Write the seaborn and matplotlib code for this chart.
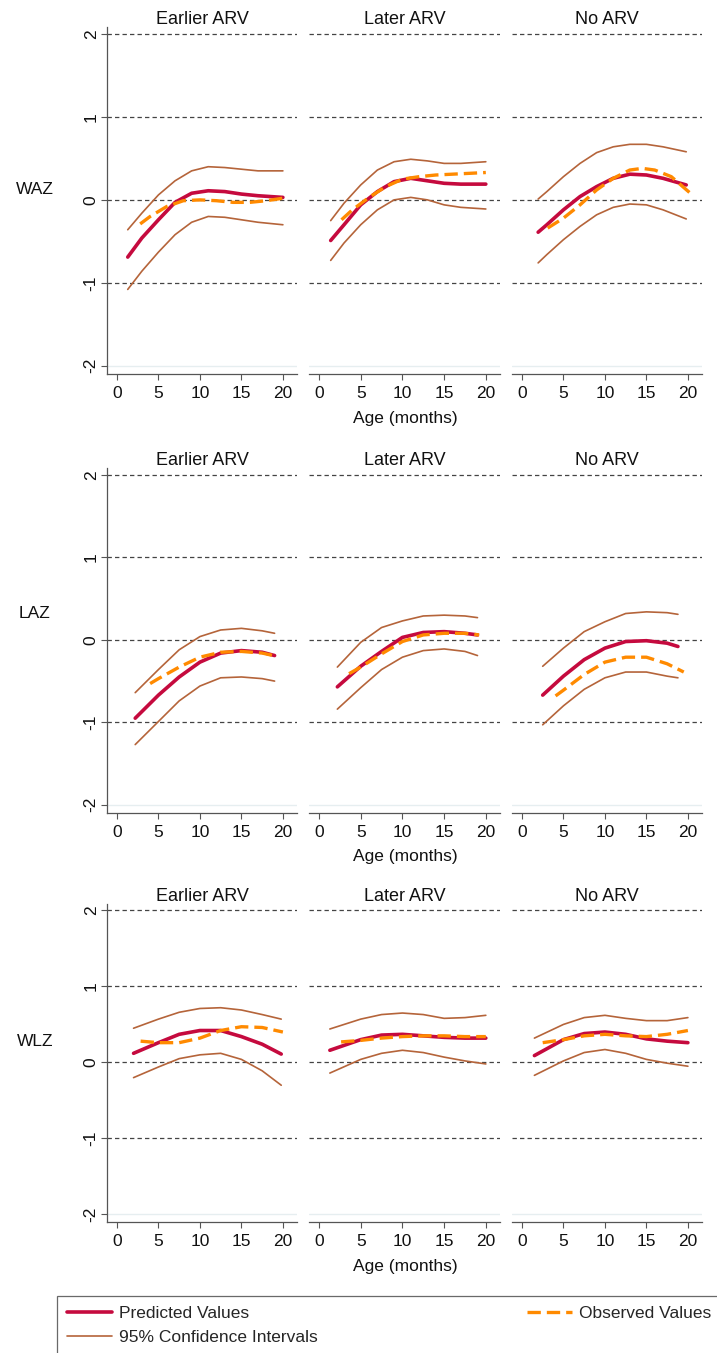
import matplotlib
matplotlib.use("Agg")
import matplotlib.pyplot as plt
import seaborn as sns
from matplotlib.lines import Line2D

# panels: rows = indicator, columns = ARV group
groups = ["Earlier ARV", "Later ARV", "No ARV"]
indicators = ["WAZ", "LAZ", "WLZ"]

# ---- WAZ ----
waz_early = dict(
    x=[1.3, 3, 5, 7, 9, 11, 13, 15, 17, 20],
    pred=[-0.69, -0.46, -0.24, -0.03, 0.08, 0.11, 0.10, 0.07, 0.05, 0.03],
    hi=[-0.36, -0.16, 0.06, 0.23, 0.35, 0.40, 0.39, 0.37, 0.35, 0.35],
    lo=[-1.08, -0.86, -0.63, -0.42, -0.27, -0.20, -0.21, -0.24, -0.27, -0.30],
    obs_x=[2.8, 4, 6, 8, 10, 12, 14, 16, 18, 20],
    obs=[-0.29, -0.20, -0.08, -0.01, 0.00, -0.01, -0.03, -0.03, -0.01, 0.02],
)
waz_later = dict(
    x=[1.4, 3, 5, 7, 9, 11, 13, 15, 17, 20],
    pred=[-0.49, -0.30, -0.06, 0.10, 0.22, 0.26, 0.23, 0.20, 0.19, 0.19],
    hi=[-0.25, -0.04, 0.18, 0.36, 0.46, 0.49, 0.47, 0.44, 0.44, 0.46],
    lo=[-0.73, -0.52, -0.30, -0.12, 0.00, 0.03, 0.00, -0.06, -0.09, -0.11],
    obs_x=[2.7, 4, 6, 8, 10, 12, 14, 16, 18, 20],
    obs=[-0.24, -0.12, 0.03, 0.16, 0.25, 0.28, 0.30, 0.31, 0.32, 0.33],
)
waz_none = dict(
    x=[1.95, 3, 5, 7, 9, 11, 13, 15, 17, 19.8],
    pred=[-0.39, -0.30, -0.12, 0.04, 0.16, 0.26, 0.31, 0.30, 0.26, 0.18],
    hi=[0.01, 0.10, 0.28, 0.44, 0.57, 0.64, 0.67, 0.67, 0.64, 0.58],
    lo=[-0.76, -0.66, -0.48, -0.32, -0.18, -0.09, -0.05, -0.06, -0.12, -0.23],
    obs_x=[3.1, 5, 7, 9, 11, 13, 14.5, 16, 18, 20.3],
    obs=[-0.34, -0.22, -0.06, 0.12, 0.26, 0.36, 0.38, 0.36, 0.28, 0.08],
)

# ---- LAZ ----
laz_early = dict(
    x=[2.2, 5, 7.5, 10, 12.5, 15, 17.5, 19],
    pred=[-0.95, -0.67, -0.45, -0.27, -0.16, -0.13, -0.15, -0.19],
    hi=[-0.64, -0.36, -0.12, 0.04, 0.12, 0.14, 0.11, 0.08],
    lo=[-1.27, -0.99, -0.74, -0.56, -0.46, -0.45, -0.47, -0.50],
    obs_x=[4, 5, 7.5, 10, 12.5, 15, 17.5, 19.3],
    obs=[-0.53, -0.47, -0.33, -0.21, -0.15, -0.14, -0.16, -0.20],
)
laz_later = dict(
    x=[2.2, 5, 7.5, 10, 12.5, 15, 17.5, 19],
    pred=[-0.57, -0.32, -0.14, 0.03, 0.09, 0.10, 0.08, 0.06],
    hi=[-0.33, -0.03, 0.15, 0.23, 0.29, 0.30, 0.29, 0.27],
    lo=[-0.84, -0.58, -0.36, -0.21, -0.13, -0.11, -0.14, -0.19],
    obs_x=[3.6, 5, 7.5, 10, 12.5, 15, 17.5, 19.2],
    obs=[-0.41, -0.33, -0.17, -0.02, 0.06, 0.08, 0.08, 0.06],
)
laz_none = dict(
    x=[2.5, 5, 7.5, 10, 12.5, 15, 17.5, 18.8],
    pred=[-0.67, -0.44, -0.24, -0.10, -0.02, -0.01, -0.04, -0.08],
    hi=[-0.32, -0.10, 0.10, 0.22, 0.32, 0.34, 0.33, 0.31],
    lo=[-1.03, -0.80, -0.60, -0.46, -0.39, -0.39, -0.44, -0.46],
    obs_x=[4.05, 5, 7.5, 10, 12.5, 15, 17.5, 19.5],
    obs=[-0.68, -0.61, -0.42, -0.27, -0.21, -0.21, -0.29, -0.39],
)

# ---- WLZ ----
wlz_early = dict(
    x=[2.0, 5, 7.5, 10, 12.5, 15, 17.5, 19.8],
    pred=[0.12, 0.26, 0.37, 0.42, 0.42, 0.34, 0.24, 0.11],
    hi=[0.45, 0.57, 0.66, 0.71, 0.72, 0.69, 0.63, 0.57],
    lo=[-0.20, -0.06, 0.05, 0.10, 0.12, 0.04, -0.11, -0.30],
    obs_x=[2.85, 5, 7.5, 10, 12.5, 15, 17.5, 20],
    obs=[0.28, 0.26, 0.26, 0.32, 0.42, 0.47, 0.46, 0.40],
)
wlz_later = dict(
    x=[1.3, 5, 7.5, 10, 12.5, 15, 17.5, 20],
    pred=[0.16, 0.30, 0.36, 0.37, 0.35, 0.33, 0.32, 0.32],
    hi=[0.44, 0.57, 0.63, 0.65, 0.63, 0.58, 0.59, 0.62],
    lo=[-0.14, 0.04, 0.12, 0.16, 0.13, 0.07, 0.02, -0.02],
    obs_x=[2.65, 5, 7.5, 10, 12.5, 15, 17.5, 20],
    obs=[0.27, 0.29, 0.32, 0.34, 0.35, 0.35, 0.34, 0.34],
)
wlz_none = dict(
    x=[1.5, 5, 7.5, 10, 12.5, 15, 17.5, 20],
    pred=[0.09, 0.30, 0.38, 0.40, 0.37, 0.31, 0.28, 0.26],
    hi=[0.32, 0.50, 0.59, 0.62, 0.58, 0.55, 0.55, 0.59],
    lo=[-0.17, 0.02, 0.13, 0.17, 0.12, 0.04, -0.01, -0.05],
    obs_x=[2.5, 5, 7.5, 10, 12.5, 15, 17.5, 20],
    obs=[0.26, 0.30, 0.35, 0.37, 0.35, 0.34, 0.37, 0.42],
)

panels = [
    [waz_early, waz_later, waz_none],
    [laz_early, laz_later, laz_none],
    [wlz_early, wlz_later, wlz_none],
]

PRED_C = "#c50a3e"
CI_C = "#b5643a"
OBS_C = "#ff8a00"
AX_C = "#555555"

sns.set_theme(style="white")
plt.rcParams["font.family"] = ["Liberation Sans", "DejaVu Sans"]

W, H = 717, 1353
fig = plt.figure(figsize=(W / 100, H / 100), dpi=100)

row_top = [27, 468, 904]
row_bot = [374, 813, 1222]
cols = [(107, 297), (309, 500), (512, 702)]
label_y = [189, 613, 1041]

for r in range(3):
    for c in range(3):
        x0, x1 = cols[c]
        ax = fig.add_axes([x0 / W, 1 - row_bot[r] / H, (x1 - x0) / W,
                           (row_bot[r] - row_top[r]) / H])
        d = panels[r][c]
        for yv in [-1, 0, 1, 2]:
            ax.axhline(yv, color="#444444", lw=0.9, ls=(0, (3.5, 2.5)), zorder=1)
        ax.axhline(-2, color="#e6eef0", lw=1.0, zorder=1)

        sns.lineplot(x=d["x"], y=d["hi"], ax=ax, color=CI_C, lw=1.2, zorder=3)
        sns.lineplot(x=d["x"], y=d["lo"], ax=ax, color=CI_C, lw=1.2, zorder=3)
        sns.lineplot(x=d["x"], y=d["pred"], ax=ax, color=PRED_C, lw=2.6, zorder=4)
        sns.lineplot(x=d["obs_x"], y=d["obs"], ax=ax, color=OBS_C, lw=2.4,
                     linestyle=(0, (4, 1.8)), zorder=5)

        ax.set_xlim(-1.2, 21.7)
        ax.set_ylim(-2.1, 2.085)
        ax.set_xticks([0, 5, 10, 15, 20])
        ax.set_xlabel("")
        ax.set_ylabel("")
        for s in ["top", "right"]:
            ax.spines[s].set_visible(False)
        ax.spines["bottom"].set_color(AX_C)
        ax.spines["bottom"].set_linewidth(0.9)
        ax.tick_params(axis="x", bottom=True, direction="out", length=4,
                       width=0.8, color=AX_C, labelsize=12.5, pad=4.5,
                       labelcolor="#111111")
        if c == 0:
            ax.spines["left"].set_color(AX_C)
            ax.spines["left"].set_linewidth(0.9)
            ax.set_yticks([-2, -1, 0, 1, 2])
            ax.set_yticklabels(["-2", "-1", "0", "1", "2"], rotation=90,
                               va="center")
            ax.tick_params(axis="y", left=True, direction="out", length=4,
                           width=0.8, color=AX_C, labelsize=12.5, pad=2,
                           labelcolor="#111111")
        else:
            ax.spines["left"].set_visible(False)
            ax.set_yticks([])
        ax.set_title(groups[c], fontsize=13, pad=2, color="#111111")

    fig.text(35 / W, 1 - label_y[r] / H, indicators[r], fontsize=12.5,
             ha="center", va="center", color="#111111")
    fig.text(405 / W, 1 - (row_bot[r] + 44) / H, "Age (months)",
             fontsize=12.5, ha="center", va="center", color="#111111")

handles = [
    Line2D([], [], color=PRED_C, lw=2.6),
    Line2D([], [], color=CI_C, lw=1.2),
    Line2D([], [], color=OBS_C, lw=2.4, ls=(0, (4, 1.8))),
]
labels = ["Predicted Values", "95% Confidence Intervals", "Observed Values"]
leg = fig.legend(handles, labels, ncol=2, loc="upper left",
                 bbox_to_anchor=(57 / W, 1 - 1296 / H, 664 / W, 0),
                 mode="expand", fontsize=12.5, frameon=True, fancybox=False,
                 edgecolor="#444444", handlelength=2.6, handletextpad=0.4,
                 labelspacing=0.55, borderpad=0.55, borderaxespad=0)
leg.get_frame().set_linewidth(0.9)

fig.savefig("out.png", dpi=100)
